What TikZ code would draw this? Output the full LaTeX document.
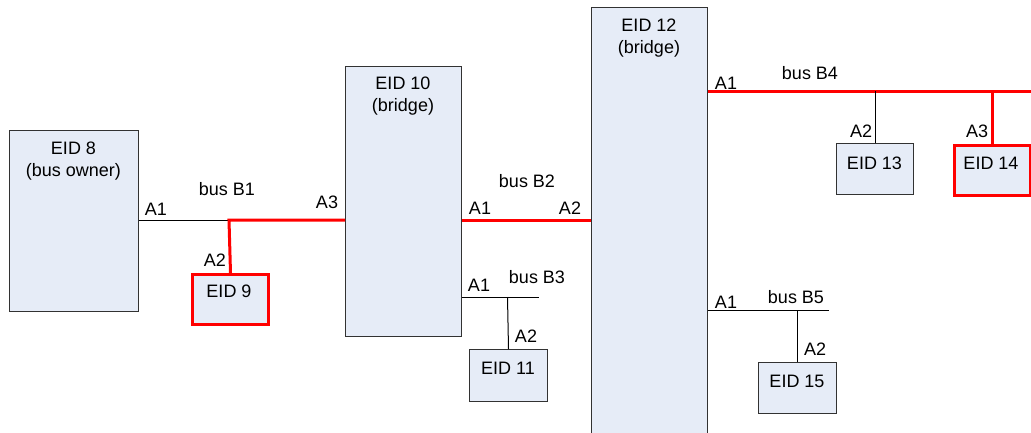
\documentclass[tikz,border=0pt]{standalone}
\usepackage{fontspec}
\setmainfont{Liberation Sans}
\usepackage{tikz}

\definecolor{eidfill}{RGB}{230,236,247}
\definecolor{eidline}{RGB}{50,50,50}

\begin{document}
\begin{tikzpicture}[x=1pt, y=-1pt,
  font=\fontsize{18}{22}\selectfont,
  eid/.style={draw=eidline, fill=eidfill, line width=1pt, anchor=north west, inner sep=0pt},
  redeid/.style={eid, draw=red, line width=3pt},
  bus/.style={draw=black, line width=1pt},
  redbus/.style={draw=red, line width=3pt},
  txt/.style={align=center, inner sep=0pt}]
\useasboundingbox (0,0) rectangle (1031,432);
\node[eid, minimum width=129pt, minimum height=181pt] (e8) at (9,130) {};
\node[redeid, minimum width=76pt, minimum height=50pt] (e9) at (191,273) {};
\node[eid, minimum width=116pt, minimum height=270pt] (e10) at (345,66) {};
\node[eid, minimum width=78pt, minimum height=52pt] (e11) at (469,349) {};
\node[eid, minimum width=116pt, minimum height=440pt] (e12) at (591,7) {};
\node[eid, minimum width=77pt, minimum height=51pt] (e13) at (836,143) {};
\node[redeid, minimum width=76pt, minimum height=50pt] (e14) at (953,144) {};
\node[eid, minimum width=78pt, minimum height=51pt] (e15) at (758,362) {};
\node[txt] (e8t) at (73.5,161) {EID 8\\(bus owner)};
\node[txt] (e9t) at (229,291) {EID 9};
\node[txt] (e10t) at (403,96) {EID 10\\(bridge)};
\node[txt] (e11t) at (508,368) {EID 11};
\node[txt] (e12t) at (649,38) {EID 12\\(bridge)};
\node[txt] (e13t) at (874.5,163) {EID 13};
\node[txt] (e14t) at (991,163) {EID 14};
\node[txt] (e15t) at (797,381) {EID 15};
% bus B1 and B2
\coordinate (b1) at (229,220);
\draw[bus] (e8.east |- b1) -- (b1);
\draw[redbus] (e10.west |- b1) -- (b1) -- (e9.north);
\draw[redbus] (e10.east |- b1) -- (e12.west |- b1);
% bus B3
\coordinate (b3) at (507.5,297);
\coordinate (b3end) at (539,297);
\draw[bus] (e10.east |- b3) -- (b3end);
\draw[bus] (b3) -- (e11.north);
% bus B4
\coordinate (b4) at (1031,91);
\draw[redbus] (e12.east |- b4) -- (b4);
\draw[bus] (e13.north |- b4) -- (e13.north);
\draw[redbus] (e14.north |- b4) -- (e14.north);
% bus B5
\coordinate (b5) at (829,310);
\draw[bus] (e12.east |- b5) -- (b5);
\draw[bus] (e15.north |- b5) -- (e15.north);
\node[txt] (l1) at (156,209) {A1};
\node[txt] (l2) at (227,189) {bus B1};
\node[txt] (l3) at (327,202) {A3};
\node[txt] (l4) at (215,260) {A2};
\node[txt] (l5) at (527,181) {bus B2};
\node[txt] (l6) at (480,208) {A1};
\node[txt] (l7) at (570,208) {A2};
\node[txt] (l8) at (479,285) {A1};
\node[txt] (l9) at (537,277) {bus B3};
\node[txt] (l10) at (526,336) {A2};
\node[txt] (l11) at (726,83) {A1};
\node[txt] (l12) at (810,73) {bus B4};
\node[txt] (l13) at (861,131) {A2};
\node[txt] (l14) at (977,131) {A3};
\node[txt] (l15) at (726,302) {A1};
\node[txt] (l16) at (796,297) {bus B5};
\node[txt] (l17) at (815,349) {A2};
\end{tikzpicture}
\end{document}
